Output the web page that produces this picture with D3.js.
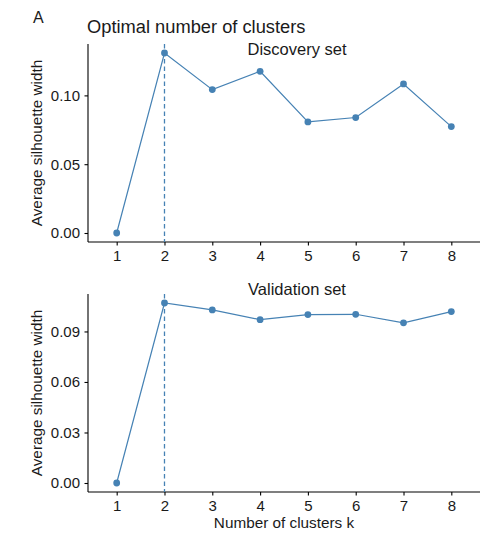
<!DOCTYPE html>
<html>
<head>
<meta charset="utf-8">
<script src="https://cdnjs.cloudflare.com/ajax/libs/d3/7.8.5/d3.min.js"></script>
<style>
  body { margin: 0; background: #fff; }
  text { font-family: "Liberation Sans", Arial, Helvetica, sans-serif; fill: #1a1a1a; }
</style>
</head>
<body>
<div id="chart"></div>
<script>
// Data
var clusters = [1, 2, 3, 4, 5, 6, 7, 8];
var discovery = [0, 0.1308, 0.1042, 0.1175, 0.0807, 0.0839, 0.1083, 0.0773];
var validation = [0, 0.1069, 0.1028, 0.0970, 0.1000, 0.1002, 0.0951, 0.1018];
var discoveryTicks = [0, 0.05, 0.10];
var validationTicks = [0, 0.03, 0.06, 0.09];
var bestK = 2;

(function() {
  var w = 491;
  var h = 539;
  var blue = 'steelblue';

  var svg = d3.select('#chart')
    .append('svg').attr('width', w).attr('height', h);

  // Panel label and main title
  svg.append('text').attr('x', 33).attr('y', 23)
    .style('font-size', '16px').text('A');
  svg.append('text').attr('x', 87).attr('y', 33)
    .style('font-size', '18.3px').text('Optimal number of clusters');

  // Discrete x scale, ggplot style expansion of 0.6
  var x = d3.scaleLinear()
    .domain([0.4, 8.6])
    .range([88, 480]);

  function panel(values, ticks, top, bottom, subtitle, subY, showXTitle) {
    var maxV = d3.max(values);
    var pad = maxV * 0.05;
    var y = d3.scaleLinear()
      .domain([-pad, maxV + pad])
      .range([bottom, top]);

    var g = svg.append('g');

    // y axis
    var yAxis = g.append('g')
      .attr('transform', 'translate(88,0)')
      .call(d3.axisLeft(y).tickValues(ticks).tickSize(3.5).tickPadding(4.5)
        .tickFormat(d3.format('.2f')));
    yAxis.select('.domain').attr('d', 'M0,' + top + 'V' + bottom)
      .attr('stroke', '#000').attr('stroke-width', 1.1);
    yAxis.selectAll('.tick line').attr('stroke', '#000').attr('stroke-width', 1.1);
    yAxis.selectAll('.tick text').style('font-size', '15px')
      .attr('fill', '#1a1a1a').attr('font-family', null);

    // x axis
    var xAxis = g.append('g')
      .attr('transform', 'translate(0,' + bottom + ')')
      .call(d3.axisBottom(x).tickValues(clusters).tickSize(3.5).tickPadding(5)
        .tickFormat(d3.format('d')));
    xAxis.select('.domain').attr('d', 'M88,0H480')
      .attr('stroke', '#000').attr('stroke-width', 1.1);
    xAxis.selectAll('.tick line').attr('stroke', '#000').attr('stroke-width', 1.1);
    xAxis.selectAll('.tick text').style('font-size', '15px')
      .attr('fill', '#1a1a1a').attr('font-family', null);

    // y axis title
    g.append('text')
      .attr('transform', 'translate(42,' + ((top + bottom) / 2) + ') rotate(-90)')
      .attr('text-anchor', 'middle')
      .style('font-size', '15.3px')
      .text('Average silhouette width');

    // subtitle
    g.append('text')
      .attr('x', 297).attr('y', subY)
      .attr('text-anchor', 'middle')
      .style('font-size', '16.5px')
      .text(subtitle);

    // dashed line at the optimal k
    g.append('line')
      .attr('x1', x(bestK)).attr('x2', x(bestK))
      .attr('y1', top).attr('y2', bottom)
      .attr('stroke', blue).attr('stroke-width', 1.3)
      .attr('stroke-dasharray', '4.5,3');

    // line and points
    var line = d3.line()
      .x(function(d, i) { return x(clusters[i]); })
      .y(function(d) { return y(d); });

    g.append('path').datum(values)
      .attr('d', line)
      .attr('fill', 'none')
      .attr('stroke', blue)
      .attr('stroke-width', 1.2);

    g.selectAll('circle').data(values).enter()
      .append('circle')
      .attr('cx', function(d, i) { return x(clusters[i]); })
      .attr('cy', function(d) { return y(d); })
      .attr('r', 3.4)
      .attr('fill', blue);

    if (showXTitle) {
      g.append('text')
        .attr('x', 284).attr('y', 528)
        .attr('text-anchor', 'middle')
        .style('font-size', '15.3px')
        .text('Number of clusters k');
    }
  }

  panel(discovery, discoveryTicks, 44, 242, 'Discovery set', 55, false);
  panel(validation, validationTicks, 294, 492, 'Validation set', 295, true);
})();
</script>
</body>
</html>
